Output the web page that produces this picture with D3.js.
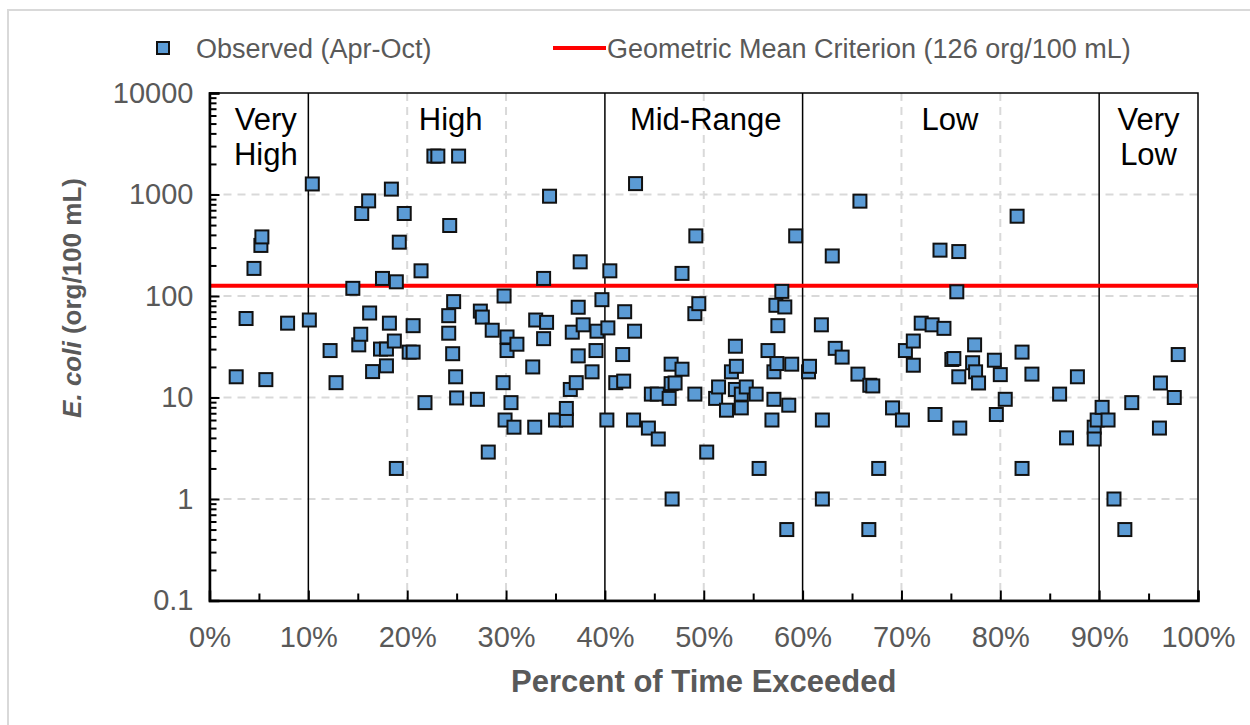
<!DOCTYPE html>
<html>
<head>
<meta charset="utf-8">
<script src="https://cdn.jsdelivr.net/npm/d3@7"></script>
<style>
  body { margin: 0; background: #fff; }
  text { font-family: "Liberation Sans", Arial, sans-serif; }
</style>
</head>
<body>
<div id="chart"></div>
<script>
// percent of time exceeded (x) and E. coli (org/100 mL) for each sample
const pctExceeded = [
  2.7, 3.7, 4.5, 5.2, 5.3, 5.7, 7.9, 10.1, 10.4, 12.2,
  12.8, 14.5, 15.1, 15.3, 15.4, 16.1, 16.2, 16.5, 17.3, 17.9,
  17.9, 17.5, 18.2, 18.4, 18.7, 18.9, 18.9, 19.2, 19.7, 20.2,
  20.6, 20.6, 21.4, 21.8, 22.7, 23.1, 24.2, 24.2, 24.3, 24.6,
  24.7, 24.9, 25.0, 25.2, 27.1, 27.4, 27.6, 28.2, 28.6, 29.7,
  29.8, 29.9, 30.1, 30.1, 30.5, 30.8, 31.1, 32.7, 32.9, 33.0,
  33.8, 33.8, 34.1, 34.4, 35.0, 36.1, 36.1, 36.5, 36.7, 37.1,
  37.3, 37.3, 37.5, 37.8, 38.7, 39.2, 39.1, 39.7, 40.2, 40.3,
  40.5, 41.1, 41.8, 41.9, 42.0, 42.9, 43.0, 43.1, 44.4, 44.7,
  45.3, 45.4, 46.5, 46.7, 46.7, 46.8, 47.1, 47.8, 47.8, 49.1,
  49.1, 49.2, 49.5, 50.3, 51.2, 51.5, 52.3, 52.8, 53.2, 53.2,
  53.3, 53.8, 53.8, 54.3, 55.3, 55.6, 56.5, 56.9, 57.1, 57.1,
  57.3, 57.4, 57.5, 57.9, 58.2, 58.4, 58.6, 58.9, 59.3, 60.6,
  60.7, 61.9, 62.0, 62.0, 63.0, 63.3, 64.0, 65.6, 65.8, 66.7,
  66.8, 67.1, 67.7, 69.1, 70.1, 70.4, 71.2, 71.2, 72.0, 73.1,
  73.4, 73.9, 74.3, 75.1, 75.3, 75.6, 75.8, 75.8, 75.9, 77.2,
  77.4, 77.5, 77.8, 79.4, 79.6, 80.0, 80.5, 81.7, 82.2, 82.2,
  83.2, 86.0, 86.7, 87.8, 89.5, 89.5, 89.8, 90.3, 90.9, 91.5,
  92.6, 93.3, 96.1, 96.2, 97.6, 98.0
];
const ecoli = [
  16, 60, 187, 315, 382, 15, 54, 58, 1270, 29,
  14, 119, 33, 42, 650, 865, 68, 18, 30, 30,
  20.5, 149, 54, 1130, 36, 138, 2, 339, 650, 28,
  51, 28, 177, 8.9, 2390, 2390, 64, 43, 495, 27,
  88, 16, 9.9, 2390, 9.6, 71, 62, 2.9, 46, 14,
  100, 6, 39.5, 29, 8.9, 5.1, 33.5, 20, 5.1, 58,
  38, 149, 55, 962, 6, 6, 7.8, 12, 44, 14,
  77.5, 25.7, 217, 52, 17.9, 45, 29, 92, 6, 48.5,
  177, 14, 26.5, 14.5, 70, 6, 45, 1280, 5, 10.8,
  10.8, 3.9, 9.8, 13.7, 21.3, 1, 13.9, 19, 167, 10.8,
  67, 391, 84, 2.9, 9.8, 12.7, 7.5, 17.9, 32, 12,
  20.3, 10.8, 7.9, 12.7, 10.8, 2, 29, 6, 17.9, 9.6,
  81, 21.6, 51, 111, 78, 0.5, 8.4, 21.3, 391, 17.9,
  20.3, 52, 6, 1, 248, 30.5, 25, 17, 860, 0.5,
  13.2, 13, 2, 7.9, 6, 29, 36, 20.8, 54, 52,
  6.8, 283, 48, 23.7, 24.2, 110, 16, 274, 5, 22,
  33, 17.9, 13.9, 23.3, 6.8, 16.8, 9.6, 611, 28, 2,
  17, 10.8, 4, 16, 5.1, 3.9, 6, 8, 6, 1,
  0.5, 8.9, 5, 13.9, 10, 26.5
];

const criterion = 126;
const criterionLabel = "Geometric Mean Criterion (126 org/100 mL)";
const seriesLabel = "Observed (Apr-Oct)";

// flow zones
const zoneBounds = [10, 40, 60, 90];
const zoneNames = [["Very", "High"], ["High"], ["Mid-Range"], ["Low"], ["Very", "Low"]];
const zoneLabelPos = [5.7, 24.4, 50.2, 74.9, 95.0];

// ticks
const xTickValues = [0, 10, 20, 30, 40, 50, 60, 70, 80, 90, 100];
const xMinorTicks = [5, 15, 25, 35, 45, 55, 65, 75, 85, 95];
const xGridValues = [20, 30, 50, 70, 80];
const yTickValues = [0.1, 1, 10, 100, 1000, 10000];
const yTickLabels = ["0.1", "1", "10", "100", "1000", "10000"];

const width = 1250, height = 725;
const margin = {top: 93, right: 52, bottom: 124.5, left: 209.5};
const labelColor = "#595959";

const svg = d3.select("#chart").append("svg")
  .attr("width", width)
  .attr("height", height);

// outer chart frame
svg.append("rect")
  .attr("x", 8).attr("y", 10)
  .attr("width", 1250).attr("height", 740)
  .attr("fill", "#fff")
  .attr("stroke", "#d9d9d9")
  .attr("stroke-width", 2);

const x = d3.scaleLinear().domain([0, 100]).range([margin.left, width - margin.right]);
const y = d3.scaleLog().domain([0.1, 10000]).range([height - margin.bottom, margin.top]);

// dashed gridlines
svg.append("g").selectAll("line")
  .data(yTickValues.slice(1, -1))
  .join("line")
    .attr("x1", x(0)).attr("x2", x(100))
    .attr("y1", d => y(d)).attr("y2", d => y(d))
    .attr("stroke", "#d9d9d9").attr("stroke-width", 2)
    .attr("stroke-dasharray", "8,6");

svg.append("g").selectAll("line")
  .data(xGridValues)
  .join("line")
    .attr("x1", d => x(d)).attr("x2", d => x(d))
    .attr("y1", y(10000)).attr("y2", y(0.1))
    .attr("stroke", "#d9d9d9").attr("stroke-width", 2)
    .attr("stroke-dasharray", "8,6");

// zone boundaries
svg.append("g").selectAll("line")
  .data(zoneBounds)
  .join("line")
    .attr("x1", d => x(d)).attr("x2", d => x(d))
    .attr("y1", y(10000)).attr("y2", y(0.1))
    .attr("stroke", "#000").attr("stroke-width", 1.5);

// zone labels
const zoneText = svg.append("g")
  .selectAll("text")
  .data(zoneNames)
  .join("text")
    .attr("x", (d, i) => x(zoneLabelPos[i]))
    .attr("y", 130)
    .attr("text-anchor", "middle")
    .attr("font-size", 31)
    .attr("fill", "#000");
zoneText.selectAll("tspan")
  .data(d => d)
  .join("tspan")
    .attr("x", function () { return this.parentNode.getAttribute("x"); })
    .attr("dy", (d, i) => i === 0 ? 0 : 35)
    .text(d => d);

// plot border
svg.append("rect")
  .attr("x", x(0)).attr("y", y(10000))
  .attr("width", x(100) - x(0)).attr("height", y(0.1) - y(10000))
  .attr("fill", "none")
  .attr("stroke", "#000").attr("stroke-width", 1.5);

// criterion line
svg.append("line")
  .attr("x1", x(0)).attr("x2", x(100))
  .attr("y1", y(criterion)).attr("y2", y(criterion))
  .attr("stroke", "#ff0000").attr("stroke-width", 4);

// axes
const xAxis = g => g
  .attr("transform", `translate(0,${y(0.1)})`)
  .call(d3.axisBottom(x).tickValues(xTickValues).tickSize(-10).tickPadding(26).tickFormat(d => d + "%"))
  .call(g => g.select(".domain").attr("stroke-width", 2.5));

const xMinor = g => g
  .attr("transform", `translate(0,${y(0.1)})`)
  .call(d3.axisBottom(x).tickValues(xMinorTicks).tickSize(-7).tickFormat(""))
  .call(g => g.select(".domain").remove());

const yAxis = g => g
  .attr("transform", `translate(${x(0)},0)`)
  .call(d3.axisLeft(y).tickValues(yTickValues).tickSize(-10).tickPadding(16)
    .tickFormat((d, i) => yTickLabels[i]))
  .call(g => g.select(".domain").attr("stroke-width", 2.5));

const yMinor = g => g
  .attr("transform", `translate(${x(0)},0)`)
  .call(d3.axisLeft(y).tickValues(y.ticks().filter(d => !yTickValues.includes(d))).tickSize(-7).tickFormat(""))
  .call(g => g.select(".domain").remove());

svg.append("g").call(xMinor);
svg.append("g").call(yMinor);
svg.append("g").attr("class", "x axis").call(xAxis);
svg.append("g").attr("class", "y axis").call(yAxis);

svg.selectAll(".axis text")
  .attr("font-family", "Liberation Sans, Arial, sans-serif")
  .attr("font-size", 29)
  .attr("fill", labelColor);
svg.selectAll(".tick line").attr("stroke", "#000").attr("stroke-width", 2);

// axis titles
svg.append("text")
  .attr("x", (x(0) + x(100)) / 2)
  .attr("y", 692)
  .attr("text-anchor", "middle")
  .attr("font-size", 31)
  .attr("font-weight", "bold")
  .attr("fill", labelColor)
  .text("Percent of Time Exceeded");

const yTitle = svg.append("text")
  .attr("transform", "translate(81,298) rotate(-90)")
  .attr("text-anchor", "middle")
  .attr("font-size", 26)
  .attr("font-weight", "bold")
  .attr("fill", labelColor);
yTitle.append("tspan").attr("font-style", "italic").text("E. coli");
yTitle.append("tspan").text(" (org/100 mL)");

// observed samples
const samples = pctExceeded.map((p, i) => ({p: p, v: ecoli[i]}));
const markerSize = 13;
svg.append("g").selectAll("rect")
  .data(samples)
  .join("rect")
    .attr("x", d => x(d.p) - markerSize / 2)
    .attr("y", d => y(d.v) - markerSize / 2)
    .attr("width", markerSize).attr("height", markerSize)
    .attr("fill", "#5b9bd5")
    .attr("stroke", "#111").attr("stroke-width", 2);

// legend
const legend = svg.append("g");
legend.append("rect")
  .attr("x", 157).attr("y", 42)
  .attr("width", 12).attr("height", 12)
  .attr("fill", "#5b9bd5")
  .attr("stroke", "#111").attr("stroke-width", 2);
legend.append("text")
  .attr("x", 196).attr("y", 58)
  .attr("font-size", 27)
  .attr("fill", labelColor)
  .text(seriesLabel);
legend.append("line")
  .attr("x1", 553).attr("x2", 606)
  .attr("y1", 48).attr("y2", 48)
  .attr("stroke", "#ff0000").attr("stroke-width", 4);
legend.append("text")
  .attr("x", 607).attr("y", 58)
  .attr("font-size", 27)
  .attr("fill", labelColor)
  .text(criterionLabel);
</script>
</body>
</html>
